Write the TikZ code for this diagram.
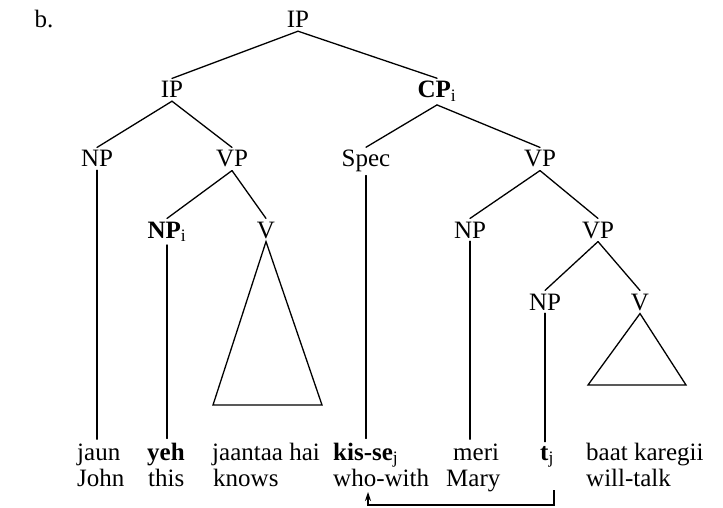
\documentclass[tikz,border=0pt]{standalone}
\usepackage{fontspec}
\setmainfont{Liberation Serif}
\usetikzlibrary{arrows.meta}
\begin{document}
\begin{tikzpicture}[x=1pt,y=-1pt,
  lab/.style={font=\fontsize{25}{29}\selectfont, inner sep=3pt, anchor=base},
  word/.style={font=\fontsize{25}{29}\selectfont, inner sep=0pt, anchor=base west},
  edge/.style={line width=1.3pt, line cap=round},
  mov/.style={line width=1.1pt, -{Stealth[length=9pt,width=6pt]}},
]
\useasboundingbox (0,0) rectangle (723,508);
% labels
\node[lab] (b) at (44,28) {b.};
\node[lab] (ip0) at (298,28) {IP};
\node[lab] (ip1) at (172,98) {IP};
\node[lab] (cp) at (437,98) {\textbf{CP}\textsubscript{i}};
\node[lab] (np1) at (97,167) {NP};
\node[lab] (vp1) at (232,167) {VP};
\node[lab] (spec) at (366,167) {Spec};
\node[lab] (vp2) at (540,167) {VP};
\node[lab] (npi) at (167,238) {\textbf{NP}\textsubscript{i}};
\node[lab] (v1) at (266,238) {V};
\node[lab] (np2) at (470,238) {NP};
\node[lab] (vp3) at (598,238) {VP};
\node[lab] (np3) at (545,310) {NP};
\node[lab] (v2) at (640,310) {V};
% words
\node[word] (w1) at (77,460) {jaun};
\node[word] (w2) at (147,460) {\textbf{yeh}};
\node[word] (w3) at (212,460) {jaantaa hai};
\node[word] (w4) at (333,460) {\textbf{kis-se}\textsubscript{j}};
\node[word] (w5) at (453,460) {meri};
\node[word] (w6) at (540,460) {\textbf{t}\textsubscript{j}};
\node[word] (w7) at (586,460) {baat karegii};
\node[word] (g1) at (77,486) {John};
\node[word] (g2) at (148,486) {this};
\node[word] (g3) at (213,486) {knows};
\node[word] (g4) at (333,486) {who-with};
\node[word] (g5) at (446,486) {Mary};
\node[word] (g7) at (586,486) {will-talk};
% branches
\draw[edge] (ip0.south) -- (ip1.north);
\draw[edge] (ip0.south) -- (cp.north);
\draw[edge] (ip1.south) -- (np1.north);
\draw[edge] (ip1.south) -- (vp1.north);
\draw[edge] (cp.south) -- (spec.north);
\draw[edge] (cp.south) -- (vp2.north);
\draw[edge] (vp1.south) -- (npi.north);
\draw[edge] (vp1.south) -- (v1.north);
\draw[edge] (vp2.south) -- (np2.north);
\draw[edge] (vp2.south) -- (vp3.north);
\draw[edge] (vp3.south) -- (np3.north);
\draw[edge] (vp3.south) -- (v2.north);
% terminal lines
\draw[edge, shorten >=4pt] (np1.south) -- (np1.south |- w1.north);
\draw[edge, shorten >=4pt] (npi.south) -- (npi.south |- w2.north);
\draw[edge, shorten >=4pt] (spec.south) -- (spec.south |- w4.north);
\draw[edge, shorten >=4pt] (np2.south) -- (np2.south |- w5.north);
\draw[edge, shorten >=4pt] (np3.south) -- (np3.south |- w6.north);
% triangles
\coordinate (t1l) at (213,405);
\coordinate (t1r) at (322,405);
\draw[edge, line join=miter] (v1.south) -- (t1l) -- (t1r) -- cycle;
\coordinate (t2l) at (588,385);
\coordinate (t2r) at (686,385);
\draw[edge, line join=miter] (v2.south) -- (t2l) -- (t2r) -- cycle;
% movement arrow
\coordinate (as) at (554,490);
\coordinate (ab) at (554,505);
\coordinate (ae) at (368,492);
\draw[mov] (as) -- (ab) -| (ae);
\end{tikzpicture}
\end{document}
